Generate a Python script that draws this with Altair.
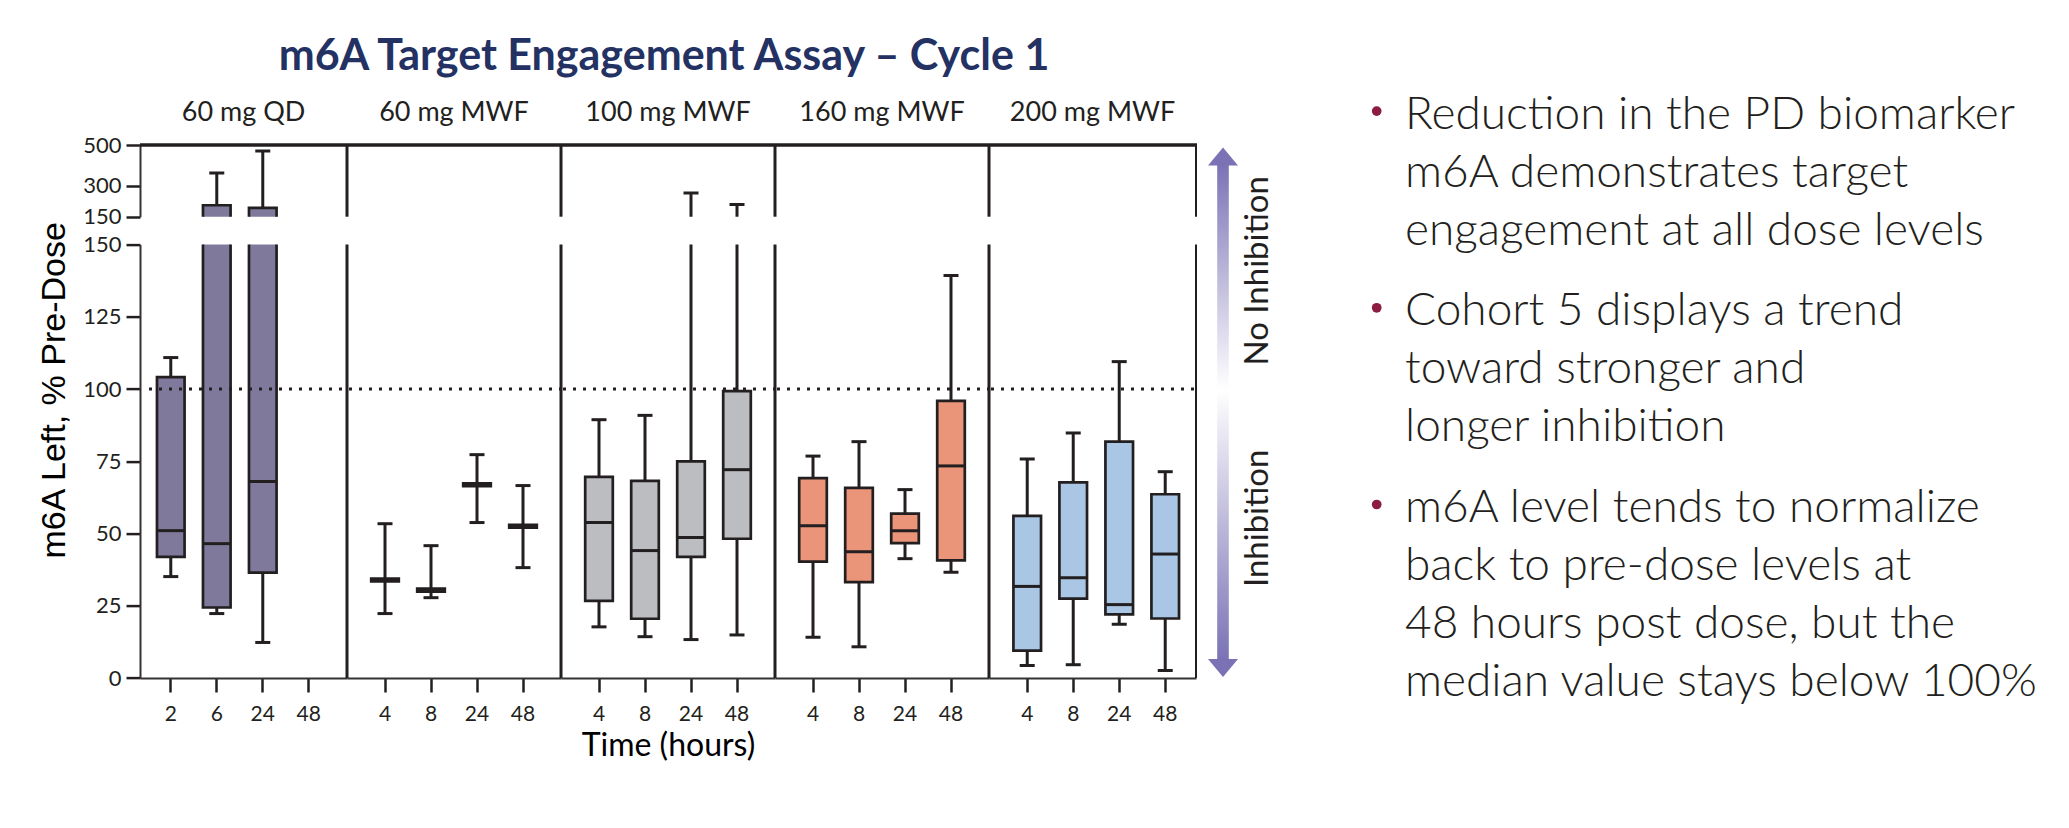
import altair as alt
import pandas as pd

# ---------------- data ----------------
TITLE = "m6A Target Engagement Assay – Cycle 1"
doses = ["60 mg QD", "60 mg MWF", "100 mg MWF", "160 mg MWF", "200 mg MWF"]
time_labels = [
    ["2", "6", "24", "48"],
    ["4", "8", "24", "48"],
    ["4", "8", "24", "48"],
    ["4", "8", "24", "48"],
    ["4", "8", "24", "48"],
]
whisker_low = [
    [35.1, 22.3, 12.3, None],
    [22.3, 27.8, 53.8, 38.2],
    [17.7, 14.3, 13.3, 14.9],
    [14.1, 10.8, 41.3, 36.6],
    [4.3, 4.6, 18.6, 2.6],
]
quartile1 = [
    [41.9, 24.4, 36.5, None],
    [33.4, 29.9, 66.4, 52.0],
    [26.7, 20.5, 41.9, 48.2],
    [40.3, 33.2, 46.7, 40.7],
    [9.5, 27.5, 22.0, 20.6],
]
median = [
    [51.0, 46.5, 68.0, None],
    [33.9, 30.4, 66.9, 52.5],
    [53.8, 44.1, 48.6, 72.1],
    [52.7, 43.7, 51.0, 73.4],
    [31.7, 34.7, 25.4, 42.9],
]
quartile3 = [
    [104.1, 206.0, 193.0, None],
    [34.4, 30.9, 67.4, 53.0],
    [69.6, 68.2, 75.0, 99.3],
    [69.2, 65.8, 56.9, 95.9],
    [56.1, 67.7, 81.8, 63.6],
]
whisker_high = [
    [110.9, 362.8, 470.3, None],
    [53.4, 45.8, 77.3, 66.6],
    [89.4, 90.9, 266.0, 210.0],
    [76.8, 81.8, 65.2, 139.3],
    [75.8, 84.8, 109.5, 71.4],
]
lower_ticks = [0, 25, 50, 75, 100, 125, 150]
upper_ticks = [150, 300, 500]
y_title = "m6A Left, % Pre-Dose"
x_title = "Time (hours)"
arrow_labels = ["No Inhibition", "Inhibition"]
bullets = [
    ["Reduction in the PD biomarker", "m6A demonstrates target", "engagement at all dose levels"],
    ["Cohort 5 displays a trend", "toward stronger and", "longer inhibition"],
    ["m6A level tends to normalize", "back to pre-dose levels at",
     "48 hours post dose, but the", "median value stays below 100%"],
]

rows = []
for i, d in enumerate(doses):
    for j, t in enumerate(time_labels[i]):
        if median[i][j] is None:
            continue
        rows.append(dict(dose=d, time=t, lo=whisker_low[i][j], q1=quartile1[i][j],
                         med=median[i][j], q3=quartile3[i][j], hi=whisker_high[i][j]))
df = pd.DataFrame(rows)
ONE = pd.DataFrame({"k": [0]})

# ---------------- styles / layout ----------------
box_fill = ["#7f7a9c", "#2f2b2c", "#bcbdc0", "#ea9479", "#a9c6e4"]
INK = "#231f20"
NAVY = "#243163"
PURPLE = "#7a72b5"
MAROON = "#8c1c40"

STEP = 46.0
PAD_IN = 0.4
BW = STEP * (1 - PAD_IN)
PANEL_W = [207, 214, 214, 214, 207]
ALIGN = [0.41, 0.5, 0.5, 0.5, 0.59]
H_UP = 71.7
H_LO = 433.4
GAP = 27.6


def make_panel(i, seg):
    w = PANEL_W[i]
    h = H_UP if seg == "upper" else H_LO
    sub = df[df["dose"] == doses[i]]
    po = (w / STEP - (4 - PAD_IN)) / 2
    xscale = alt.Scale(domain=time_labels[i], paddingInner=PAD_IN, paddingOuter=po, align=ALIGN[i])
    if seg == "upper":
        yscale = alt.Scale(domain=[150, 500], nice=False, zero=False)
    else:
        yscale = alt.Scale(domain=[0, 150], nice=False, zero=False)

    if seg == "lower":
        ax_kw = dict(labelAngle=0, labelFont="Lato", labelFontSize=21, labelColor=INK,
                     labelPadding=11, tickSize=14, tickWidth=2.5, tickColor=INK,
                     domainColor="#333333", domainWidth=2)
        if i == 2:
            xaxis = alt.Axis(title=x_title, titleFont="Lato", titleFontSize=32,
                             titleFontWeight="normal", titleColor="#000000",
                             titleBaseline="middle", titleY=67, **ax_kw)
        else:
            xaxis = alt.Axis(title=None, **ax_kw)
    else:
        xaxis = None

    if i == 0:
        y_kw = dict(labelFont="Lato", labelFontSize=22, labelColor=INK, labelPadding=5,
                    labelOverlap=False, tickSize=14, tickWidth=2.5, tickColor=INK,
                    domainColor="#333333", domainWidth=2, grid=False)
        if seg == "upper":
            yaxis = alt.Axis(values=upper_ticks, title=None, **y_kw)
        else:
            yaxis = alt.Axis(values=lower_ticks, title=y_title, titleFont="Liberation Sans",
                             titleFontSize=34, titleFontWeight="normal", titleColor="#000000",
                             titleAngle=270, titleAlign="center", titleBaseline="middle",
                             titleX=-86, titleY=145.2, **y_kw)
    else:
        yaxis = None

    def X():
        return alt.X("time:N", scale=xscale, axis=xaxis)

    def Y(f):
        return alt.Y(f + ":Q", scale=yscale, axis=yaxis)

    base = alt.Chart(sub)
    layers = [
        base.mark_rule(clip=True, color=INK, strokeWidth=3).encode(x=X(), y=Y("lo"), y2="q1:Q"),
        base.mark_rule(clip=True, color=INK, strokeWidth=3).encode(x=X(), y=Y("q3"), y2="hi:Q"),
        base.mark_bar(clip=True, fill=box_fill[i], stroke=INK, strokeWidth=2.7, opacity=1)
            .encode(x=X(), y=Y("q1"), y2="q3:Q"),
        base.mark_tick(clip=True, color=INK, thickness=3, size=BW, opacity=1).encode(x=X(), y=Y("med")),
        base.mark_tick(clip=True, color=INK, thickness=3, size=15, opacity=1).encode(x=X(), y=Y("lo")),
        base.mark_tick(clip=True, color=INK, thickness=3, size=15, opacity=1).encode(x=X(), y=Y("hi")),
    ]
    one = alt.Chart(ONE)
    if seg == "lower":
        layers.append(
            one.mark_rule(color=INK, strokeWidth=3, strokeDash=[3, 7]).encode(
                x=alt.value(9 if i == 0 else 2), x2=alt.value(w),
                y=alt.YDatum(100, scale=yscale, axis=yaxis)))
    if i > 0:
        layers.append(one.mark_rule(color=INK, strokeWidth=3).encode(
            x=alt.value(0), y=alt.value(0), y2=alt.value(h)))
    if i == 4:
        layers.append(one.mark_rule(color=INK, strokeWidth=2).encode(
            x=alt.value(w), y=alt.value(0), y2=alt.value(h)))
    if seg == "upper":
        layers.append(one.mark_rule(color=INK, strokeWidth=3.5).encode(
            x=alt.value(0), x2=alt.value(w + (1 if i == 4 else 0)), y=alt.value(0)))
        layers.append(one.mark_text(text=doses[i], font="Lato", fontSize=27, color=INK,
                                    align="center", baseline="alphabetic")
                      .encode(x=alt.value(w / 2), y=alt.value(-24.3)))
        if i == 2:
            layers.append(one.mark_text(text=TITLE, font="Lato", fontSize=43, fontWeight="bold",
                                        color=NAVY, align="center", baseline="alphabetic")
                          .encode(x=alt.value(w / 2 - 4), y=alt.value(-75)))
    if seg == "lower" and i == 4:
        grad = alt.LinearGradient(
            gradient="linear",
            stops=[alt.GradientStop(color=PURPLE, offset=0),
                   alt.GradientStop(color="#ffffff", offset=0.453),
                   alt.GradientStop(color=PURPLE, offset=1)],
            x1=0, x2=0, y1=0, y2=1)
        layers.append(one.mark_rect(fill=grad).encode(
            x=alt.value(228.2), x2=alt.value(239.8), y=alt.value(-80.5), y2=alt.value(415.9)))
        layers.append(one.mark_point(shape="M -1 0.6 L 0 -0.6 L 1 0.6 Z", size=900, filled=True,
                                     fill=PURPLE, strokeOpacity=0, opacity=1)
                      .encode(x=alt.value(234), y=alt.value(-88.15)))
        layers.append(one.mark_point(shape="M -1 -0.6 L 0 0.6 L 1 -0.6 Z", size=900, filled=True,
                                     fill=PURPLE, strokeOpacity=0, opacity=1)
                      .encode(x=alt.value(234), y=alt.value(423.35)))
        for lab, yy in zip(arrow_labels, [26.2, 273.7]):
            layers.append(one.mark_text(text=lab, font="Lato", fontSize=33, color=INK, angle=270,
                                        align="center", baseline="middle")
                          .encode(x=alt.value(268.7), y=alt.value(yy)))
        for k, para in enumerate(bullets):
            by = -116 + k * 196.7
            layers.append(one.mark_circle(size=95, color=MAROON, opacity=1).encode(
                x=alt.value(387.7), y=alt.value(by - 17.5)))
            layers.append(one.mark_text(text=para, font="Lato", fontSize=46, fontWeight=300,
                                        color=INK, align="left", baseline="alphabetic",
                                        lineHeight=58)
                          .encode(x=alt.value(416), y=alt.value(by)))
    return alt.layer(*layers).properties(width=w, height=h)


upper = [make_panel(i, "upper") for i in range(5)]
lower = [make_panel(i, "lower") for i in range(5)]

chart = (
    alt.concat(*upper, *lower, columns=5, spacing={"row": GAP, "column": 0},
               bounds="flush", align="each")
    .properties(padding={"left": 28, "top": 28, "right": 5, "bottom": 5})
    .configure_view(strokeOpacity=0)
)

chart.save("out.html", embed_options={"renderer": "svg", "actions": False})
